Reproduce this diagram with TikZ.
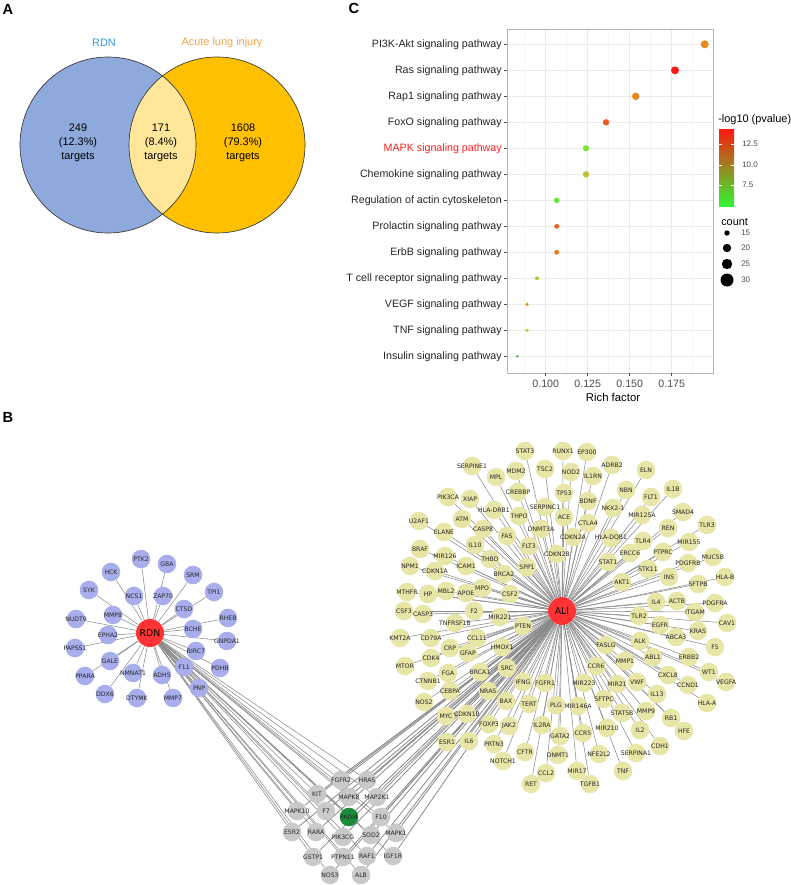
\documentclass[tikz,border=0pt]{standalone}
\usepackage{fontspec}
\setmainfont{Liberation Sans}
\newfontfamily\netfont{DejaVu Sans}
\pgfdeclarelayer{edges}
\pgfsetlayers{edges,main}
\definecolor{vblue}{HTML}{8EA9DB}
\definecolor{vorange}{HTML}{FFC000}
\definecolor{vlight}{HTML}{FFE699}
\definecolor{vline}{HTML}{3A3A3A}
\definecolor{rdnlab}{HTML}{2E9BE6}
\definecolor{alilab}{HTML}{F5A54A}
\definecolor{hubred}{HTML}{FF3333}
\definecolor{rdnfill}{HTML}{A8AEEC}
\definecolor{alifill}{HTML}{E8E6A6}
\definecolor{grayfill}{HTML}{C9C9C9}
\definecolor{padi}{HTML}{1C8A3A}
\definecolor{edgec}{HTML}{8A8A8A}
\definecolor{gridc}{HTML}{EBEBEB}
\definecolor{gridm}{HTML}{F4F4F4}
\definecolor{framec}{HTML}{B3B3B3}
\definecolor{axtext}{HTML}{262626}
\definecolor{ticktext}{HTML}{4D4D4D}
\definecolor{mapkred}{HTML}{FF2020}
\definecolor{c1}{HTML}{E88A1E}
\definecolor{c2}{HTML}{FF1A1A}
\definecolor{c3}{HTML}{E8861E}
\definecolor{c4}{HTML}{F05A1E}
\definecolor{c5}{HTML}{7CE63C}
\definecolor{c6}{HTML}{C0C030}
\definecolor{c7}{HTML}{5CE83A}
\definecolor{c8}{HTML}{F0601E}
\definecolor{c9}{HTML}{E8781E}
\definecolor{c10}{HTML}{B4CC2A}
\definecolor{c11}{HTML}{E09A1A}
\definecolor{c12}{HTML}{A8D830}
\definecolor{c13}{HTML}{40C040}
\begin{document}
\begin{tikzpicture}[x=0.75pt,y=-0.75pt,
  panel/.style={font=\bfseries\fontsize{11}{12}\selectfont},
  vtext/.style={font=\fontsize{8.2}{10.3}\selectfont, align=center},
  nettext/.style={font=\netfont\fontsize{4.6}{5}\selectfont, text=black!85, inner sep=0pt},
  netnode/.style={circle, inner sep=0pt, minimum size=13.9pt},
  rdnn/.style={netnode, fill=rdnfill},
  alin/.style={netnode, fill=alifill},
  grayn/.style={netnode, fill=grayfill},
  hub/.style={circle, inner sep=0pt, minimum size=21pt, fill=hubred, font=\netfont\fontsize{7}{8}\selectfont},
  edge/.style={draw=edgec, line width=0.4pt},
  edgeb/.style={draw=edgec, line width=0.6pt},
  pathlab/.style={anchor=east, font=\fontsize{8}{9}\selectfont, inner sep=0pt},
  ticklab/.style={font=\fontsize{8}{9}\selectfont, text=ticktext, inner sep=0pt},
  leglab/.style={font=\fontsize{6}{7}\selectfont, text=ticktext, anchor=west, inner sep=0pt}
]
\useasboundingbox (0,0) rectangle (791,885);
\begin{pgfonlayer}{edges}
\fill[white] (0,0) rectangle (791,885);
\end{pgfonlayer}

% ---------- A: Venn ----------
\node[panel] (labA) at (8,9) {A};
\fill[vblue] (108,145) circle[radius=88];
\fill[vorange] (217,145) circle[radius=88];
\begin{scope}
  \clip (108,145) circle[radius=88];
  \fill[vlight] (217,145) circle[radius=88];
\end{scope}
\draw[vline, line width=0.5pt] (108,145) circle[radius=88];
\draw[vline, line width=0.5pt] (217,145) circle[radius=88];
\node[vtext, text=rdnlab] (vRDN) at (104,43) {RDN};
\node[vtext, text=alilab] (vALI) at (222,43) {Acute lung injury};
\node[vtext] (v1) at (78,143) {249\\(12.3\%)\\targets};
\node[vtext] (v2) at (161,143) {171\\(8.4\%)\\targets};
\node[vtext] (v3) at (243,143) {1608\\(79.3\%)\\targets};

% ---------- C: dot plot ----------
\node[panel] (labC) at (354,8) {C};
\foreach \gx in {524.7,566.7,608.7,650.7,692.7}
  \draw[gridm, line width=0.4pt] (\gx,29) -- (\gx,373);
\foreach \gx in {545.7,587.7,629.7,671.7}
  \draw[gridc, line width=0.6pt] (\gx,29) -- (\gx,373);
\foreach \i in {1,...,13}{
  \pgfmathsetmacro\yy{44.3+26*(\i-1)}
  \draw[gridc, line width=0.6pt] (507,\yy) -- (713,\yy);
  \draw[ticktext, line width=0.4pt] (504,\yy) -- (507,\yy);
}
\draw[framec, line width=0.6pt] (507,29) rectangle (713,373);
\foreach \t/\px/\s/\lc [count=\i] in {
  PI3K-Akt signaling pathway/704.7/4.0/axtext,
  Ras signaling pathway/675/4.0/axtext,
  Rap1 signaling pathway/635.7/3.7/axtext,
  FoxO signaling pathway/606/3.2/axtext,
  MAPK signaling pathway/586/3.2/mapkred,
  Chemokine signaling pathway/586/3.2/axtext,
  Regulation of actin cytoskeleton/556.7/2.7/axtext,
  Prolactin signaling pathway/556.7/2.4/axtext,
  ErbB signaling pathway/556.7/2.4/axtext,
  T cell receptor signaling pathway/537/2.0/axtext,
  VEGF signaling pathway/527/1.8/axtext,
  TNF signaling pathway/527/1.8/axtext,
  Insulin signaling pathway/517.3/1.4/axtext}{
  \pgfmathsetmacro\yy{44.3+26*(\i-1)}
  \node[pathlab, text=\lc] (pl\i) at (502,\yy) {\t};
  \fill[c\i] (\px,\yy) circle[radius=\s];
}
\foreach \gx/\lab [count=\i] in {545.7/0.100,587.7/0.125,629.7/0.150,671.7/0.175}{
  \draw[ticktext, line width=0.4pt] (\gx,373) -- (\gx,376);
  \node[ticklab] (xt\i) at (\gx,383.5) {\lab};
}
\node[font=\fontsize{8.5}{9}\selectfont, inner sep=0pt] (xlab) at (613,397) {Rich factor};
% legend
\node[font=\fontsize{8.2}{9}\selectfont, anchor=west, inner sep=0pt] (legt) at (718,120) {-log10 (pvalue)};
\shade[top color={rgb,255:red,255;green,25;blue,15}, middle color={rgb,255:red,220;green,150;blue,15}, bottom color={rgb,255:red,50;green,245;blue,50}] (719,129) rectangle (734,206);
\foreach \ly/\lab [count=\i] in {144/12.5,165/10.0,185/7.5}{
  \draw[white, line width=0.5pt] (719,\ly) -- (722,\ly) (731,\ly) -- (734,\ly);
  \node[leglab] (cb\i) at (742,\ly) {\lab};
}
\node[font=\fontsize{8.2}{9}\selectfont, anchor=west, inner sep=0pt] (cnt) at (721,222) {count};
\foreach \ly/\r/\lab [count=\i] in {233/2.7/15,248/4.2/20,264/5.2/25,280/6.5/30}{
  \fill[black] (727,\ly) circle[radius=\r];
  \node[leglab] (cl\i) at (741,\ly) {\lab};
}

% ---------- B: network ----------
\node[panel] (labB) at (8,417) {B};
\node[hub] (RDN) at (150,633) {RDN};
\node[hub] (ALI) at (562,611) {ALI};

\foreach \x/\y/\t [count=\i] in {
141/559/PTK2, 167/564/GBA, 111/572/HCK, 193/575/SRM, 89/590/SYK, 134/596/NCS1,
163/596/ZAP70, 214/592/TPI1, 184/609/CTSD, 76/619/NUDT9, 113/615/MMP8, 228/618/RHEB,
193/629/BCHE, 108/635/EPHA2, 227/641/GNPDA1, 75/648/PAPSS1, 196/651/BIRC7, 110/661/GALE,
184/667/F11, 220/668/PDHB, 85/676/PPARA, 133/673/NMNAT1, 162/675/ADH5, 199/688/PNP,
105/694/DDX6, 137/698/DTYMK, 173/698/MMP7}{
  \node[rdnn, label={[nettext]center:\t}] (r\i) at (\x,\y) {};
  \xdef\nrdn{\i}
}

\foreach \x/\y/\t [count=\i] in {
525/451/STAT3, 563/451/RUNX1, 587/452/EP300, 472/466/SERPINE1, 516/471/MDM2, 545/469/TSC2,
571/472/NOD2, 612/465/ADRB2, 646/470/ELN, 496/477/MPL, 518/492/CREBBP, 593/476/IL1RN,
448/497/PIK3CA, 470/499/XIAP, 564/493/TP53, 626/490/NBN, 673/489/IL1B, 494/510/HLA-DRB1,
545/507/SERPINC1, 588/501/BDNF, 651/497/FLT1, 419/521/U2AF1, 462/519/ATM, 519/516/THPO,
564/517/ACE, 613/508/NKX2-1, 642/515/MIR125A, 683/512/SMAD4, 444/532/ELANE, 483/529/CASP8,
541/529/DNMT3A, 588/523/CTLA4, 668/528/REN, 707/525/TLR3, 507/536/FAS, 573/537/CDKN2A,
611/538/HLA-DQB1, 643/541/TLR4, 689/542/MIR155, 420/549/BRAF, 475/545/IL10, 529/546/FLT3,
630/553/ERCC6, 663/552/PTPRC, 713/557/MUC5B, 445/556/MIR126, 490/559/THBD, 557/554/CDKN2B,
608/562/STAT1, 410/566/NPM1, 435/571/CDKN1A, 466/566/ICAM1, 504/574/BRCA2, 527/567/SPP1,
648/569/STK11, 688/563/PDGFRB, 669/577/INS, 725/577/HLA-B, 698/584/SFTPB, 622/582/AKT1,
407/592/MTHFR, 428/594/HP, 446/591/MBL2, 466/593/APOE, 482/588/MPO, 510/594/CSF2,
656/602/IL4, 677/601/ACTB, 715/603/PDGFRA, 404/611/CSF3, 423/614/CASP3, 474/611/F2,
500/617/MIR221, 695/612/ITGAM, 639/616/TLR2, 727/623/CAV1, 455/623/TNFRSF1B, 523/626/PTEN,
660/625/EGFR, 698/631/KRAS, 676/637/ABCA3, 715/647/F5, 400/638/KMT2A, 431/638/CD79A,
477/638/CCL11, 640/641/ALK, 606/645/FASLG, 450/648/CRP, 502/647/HMOX1, 468/653/GFAP,
653/657/ABL1, 689/657/ERBB2, 405/666/MTOR, 431/658/CDK4, 625/661/MMP1, 709/672/WT1,
668/675/CXCL8, 726/682/VEGFA, 688/685/CCND1, 507/668/SRC, 480/672/BRCA1, 448/673/FGA,
596/666/CCR6, 428/681/CTNNB1, 523/682/IFNG, 545/683/FGFR1, 584/683/MIR223, 617/684/MIR21,
637/682/VWF, 657/694/IL13, 707/703/HLA-A, 450/691/CEBPA, 488/691/NRAS, 578/706/MIR146A,
604/699/SFTPC, 622/713/STAT5B, 646/711/MMP9, 671/718/RB1, 424/702/NOS2, 506/701/BAX,
529/704/TERT, 556/705/PLG, 684/731/HFE, 446/716/MYC, 467/714/CDKN1B, 489/724/FOXP3,
509/726/JAK2, 542/725/IL2RA, 583/733/CCR5, 607/728/MIR210, 640/730/IL2, 660/746/CDH1,
560/736/GATA2, 447/742/ESR1, 469/741/IL6, 494/744/PRTN3, 525/752/CFTR, 558/755/DNMT1,
599/754/NFE2L2, 636/753/SERPINA1, 503/761/NOTCH1, 546/773/CCL2, 577/771/MIR17, 623/771/TNF,
531/784/RET, 590/784/TGFB1}{
  \node[alin, label={[nettext]center:\t}] (a\i) at (\x,\y) {};
  \xdef\nali{\i}
}

\foreach \x/\y/\t [count=\i] in {
341/780/FGFR2, 367/780/HRAS, 317/794/KIT, 349/797/MAPK8, 377/797/MAP2K1, 297/811/MAPK10,
326/811/F7, 381/817/F10, 292/832/ESR2, 316/832/RARA, 343/837/PIK3CG, 371/835/SOD2,
396/833/MAPK1, 313/857/GSTP1, 343/857/PTPN11, 367/856/RAF1, 393/856/IGF1R, 330/875/NOS3,
361/875/ALB}{
  \node[grayn, label={[nettext]center:\t}] (g\i) at (\x,\y) {};
  \xdef\ngray{\i}
}
\node[netnode, fill=padi, label={[nettext]center:PADI4}] (PADI4) at (349,817) {};

\begin{pgfonlayer}{edges}
  \foreach \i in {1,...,\nrdn} \draw[edge] (RDN) -- (r\i);
  \foreach \i in {1,...,\nali} \draw[edge] (ALI) -- (a\i);
  \foreach \i in {1,...,\ngray}{
    \draw[edge] (RDN) -- (g\i);
    \draw[edgeb] (ALI) -- (g\i);
  }
  \draw[edge] (RDN) -- (PADI4);
  \draw[edgeb] (ALI) -- (PADI4);
\end{pgfonlayer}
\end{tikzpicture}
\end{document}
